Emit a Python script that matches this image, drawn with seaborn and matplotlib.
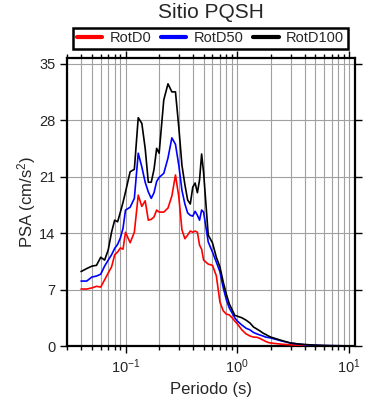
import matplotlib
matplotlib.use("Agg")
import matplotlib.pyplot as plt
import matplotlib.ticker as mticker
import seaborn as sns
import numpy as np
import pandas as pd

# periods (s) and spectral accelerations
periodo = [0.04, 0.045, 0.05, 0.055, 0.06, 0.065, 0.07, 0.075, 0.08, 0.085, 0.09, 0.095,
           0.10, 0.11, 0.12, 0.13, 0.14, 0.15, 0.16, 0.17, 0.18, 0.19, 0.20, 0.22, 0.24,
           0.26, 0.28, 0.30, 0.32, 0.34, 0.36, 0.38, 0.40, 0.42, 0.44, 0.46, 0.48, 0.50,
           0.55, 0.60, 0.65, 0.70, 0.75, 0.80, 0.85, 0.90, 0.95, 1.0, 1.1, 1.2, 1.3, 1.4,
           1.5, 1.6, 1.7, 1.8, 1.9, 2.0, 2.5, 3.0, 3.5, 4.0, 5.0, 6.0, 7.0, 8.0, 9.0, 10.0]

rotd0 = [7.06, 7.06, 7.2, 7.4, 7.3, 8.2, 9.05, 9.8, 11.3, 11.65, 12.15, 12.0,
         14.1, 12.8, 14.1, 18.7, 17.3, 18.0, 15.6, 15.7, 16.0, 16.85, 16.6, 16.6, 17.1,
         18.6, 21.2, 18.5, 14.4, 13.3, 13.75, 14.25, 14.1, 14.25, 14.1, 12.5, 12.0, 10.65,
         10.15, 10.0, 8.7, 5.45, 4.35, 3.95, 3.85, 3.5, 3.1, 2.75, 2.0, 1.5, 1.24, 1.1,
         1.08, 0.93, 0.74, 0.56, 0.43, 0.37, 0.22, 0.15, 0.10, 0.07, 0.04, 0.03, 0.02, 0.02, 0.01, 0.01]

rotd50 = [8.05, 8.05, 8.55, 8.67, 8.9, 9.9, 10.65, 11.3, 12.1, 12.6, 13.4, 14.6,
          16.85, 17.2, 18.3, 23.9, 22.2, 20.3, 19.1, 18.3, 19.0, 20.4, 20.9, 21.4, 23.3,
          25.8, 25.0, 22.4, 19.3, 17.6, 16.5, 16.2, 16.1, 16.7, 16.2, 15.6, 16.85, 16.6,
          12.9, 11.65, 10.4, 9.2, 7.2, 5.7, 4.7, 4.1, 3.5, 3.1, 2.6, 2.2, 2.0, 1.67,
          1.5, 1.36, 1.24, 1.1, 1.05, 0.99, 0.62, 0.37, 0.25, 0.16, 0.09, 0.05, 0.04, 0.03, 0.02, 0.02]

rotd100 = [9.23, 9.6, 9.9, 10.0, 11.0, 10.65, 11.9, 14.1, 15.6, 15.4, 16.6, 17.8,
           19.1, 21.6, 21.9, 28.3, 27.6, 24.5, 20.3, 20.3, 21.9, 24.5, 23.9, 30.5, 32.5,
           31.5, 31.5, 27.1, 22.4, 20.0, 18.1, 17.6, 19.7, 20.2, 19.0, 20.6, 23.8, 21.5,
           13.75, 12.8, 11.0, 9.8, 7.9, 6.4, 5.2, 4.5, 3.8, 3.7, 3.5, 3.2, 2.85, 2.35,
           2.1, 1.86, 1.6, 1.43, 1.24, 1.1, 0.68, 0.37, 0.25, 0.19, 0.10, 0.06, 0.04, 0.03, 0.02, 0.02]

series = ["RotD0", "RotD50", "RotD100"]
colores = ["#ff0000", "#0000ff", "#000000"]
yticks = [0, 7, 14, 21, 28, 35]

df = pd.DataFrame({
    "Periodo": periodo * 3,
    "PSA": rotd0 + rotd50 + rotd100,
    "serie": [s for s in series for _ in periodo],
})

sns.set_style("ticks")
plt.rcParams["font.family"] = ["Liberation Sans", "DejaVu Sans"]
plt.rcParams["mathtext.fontset"] = "custom"
plt.rcParams["mathtext.rm"] = "Liberation Sans"
plt.rcParams["mathtext.it"] = "Liberation Sans:italic"

fig = plt.figure(figsize=(3.9, 4.0), dpi=100)
ax = fig.add_axes([0.172, 0.135, 0.738, 0.72])

sns.lineplot(data=df, x="Periodo", y="PSA", hue="serie", palette=colores,
             hue_order=series, linewidth=1.2, ax=ax, legend=False, zorder=3)

ax.set_xscale("log")
ax.set_xlim(0.03, 11.3)
ax.set_ylim(0, 35.7)
ax.set_yticks(yticks)
ax.xaxis.set_minor_locator(mticker.LogLocator(base=10, subs=np.arange(2, 10)))
ax.xaxis.set_minor_formatter(mticker.NullFormatter())
ax.grid(which="both", axis="x", color="#a0a0a0", linewidth=0.8)
ax.grid(which="major", axis="y", color="#a0a0a0", linewidth=0.8)

for sp in ax.spines.values():
    sp.set_linewidth(1.6)
    sp.set_color("black")
ax.tick_params(which="both", direction="out", top=True, right=True, width=1,
               labelsize=10.5, color="black")
ax.tick_params(which="major", length=5)
ax.tick_params(which="minor", length=3)

ax.set_xlabel("Periodo (s)", fontsize=12)
ax.set_ylabel("PSA (cm/s$^2$)", fontsize=12, labelpad=1)
fig.text(0.54, 0.968, "Sitio PQSH", ha="center", va="center", fontsize=15)

handles = [plt.Line2D([], [], color=c, linewidth=3) for c in colores]
leg = fig.legend(handles, series, loc="lower left", ncol=3, mode="expand",
                 bbox_to_anchor=(0.187, 0.8775, 0.705, 0.0525), fontsize=10.5,
                 frameon=True, fancybox=False, framealpha=1, edgecolor="black",
                 handlelength=1.75, handletextpad=0.5, borderpad=0.25, borderaxespad=0)
leg.get_frame().set_linewidth(1.8)

fig.savefig("out.png", dpi=100)
